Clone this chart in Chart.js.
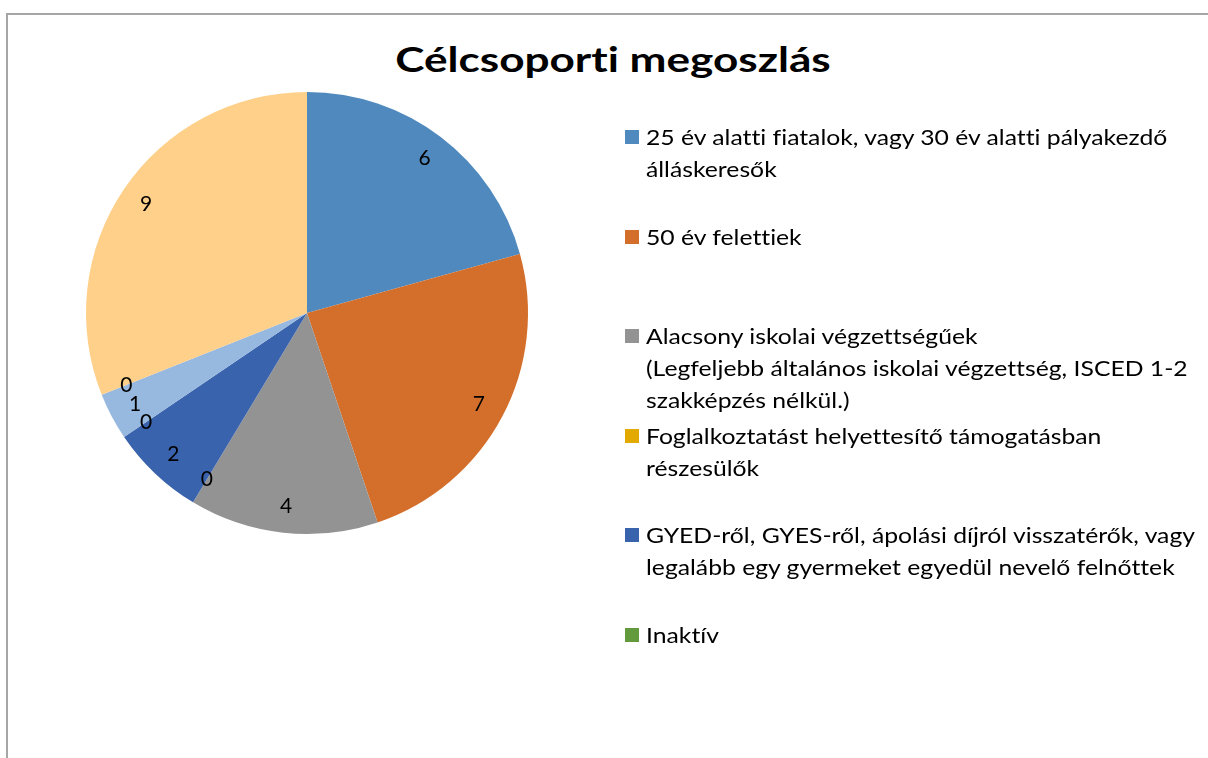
<!DOCTYPE html>
<html lang="hu">
<head>
<meta charset="utf-8">
<title>Célcsoporti megoszlás</title>
<script src="https://cdn.jsdelivr.net/npm/chart.js@4"></script>
<style>
    html, body { margin: 0; padding: 0; background: #fff; overflow: hidden; }
    body { width: 1208px; height: 758px; position: relative; font-family: Lato, "Open Sans", sans-serif; font-variant-ligatures: none; }
    #frame { position: absolute; left: 6px; top: 13px; width: 1300px; height: 900px; border: 2px solid #a6a6a6; }
    #chartTitle { position: absolute; left: 0; top: 40px; width: 1226px; text-align: center; font-size: 35px; line-height: 36px; font-weight: bold; color: #000; transform: scaleX(1.26); transform-origin: 613px 0; }
    #pieChart { position: absolute; left: 0; top: 0; }
    #legend { position: absolute; left: 625px; top: 121px; width: 580px; }
    .legend-item { position: relative; height: 99.5px; }
    .legend-box { position: absolute; left: 0; top: 9px; width: 14px; height: 14px; }
    .legend-text { margin-left: 21px; font-size: 21.5px; line-height: 32px; color: #000; white-space: nowrap; transform: scaleX(1.15); transform-origin: 0 0; }
</style>
</head>
<body>
<div id="frame"></div>
<div id="chartTitle">Célcsoporti megoszlás</div>
<canvas id="pieChart" width="1208" height="758"></canvas>
<div id="legend"></div>
<script>
// Categories (each one split into the lines shown in the legend)
const categories = [
    ['25 év alatti fiatalok, vagy 30 év alatti pályakezdő', 'álláskeresők'],
    ['50 év felettiek'],
    ['Alacsony iskolai végzettségűek', '(Legfeljebb általános iskolai végzettség, ISCED 1-2', 'szakképzés nélkül.)'],
    ['Foglalkoztatást helyettesítő támogatásban', 'részesülők'],
    ['GYED-ről, GYES-ről, ápolási díjról visszatérők, vagy', 'legalább egy gyermeket egyedül nevelő felnőttek'],
    ['Inaktív'],
    [''],   // legend is cut off in the original, names not visible
    [''],
    ['']
];

const values = [6, 7, 4, 0, 2, 0, 1, 0, 9];

const colors = ['#4f89bd', '#d46f2b', '#939393', '#e2a900', '#3a63ad', '#639a3d', '#98b9df', '#f2b27f', '#fed08a'];

// only the first entries fit in the legend box
const legendCount = 6;

document.addEventListener('DOMContentLoaded', function() {
    // Legend
    const legend = document.getElementById('legend');
    for (let i = 0; i < legendCount; i++) {
        const item = document.createElement('div');
        item.className = 'legend-item';
        const box = document.createElement('span');
        box.className = 'legend-box';
        box.style.background = colors[i];
        const text = document.createElement('div');
        text.className = 'legend-text';
        text.innerHTML = categories[i].join('<br>');
        item.appendChild(box);
        item.appendChild(text);
        legend.appendChild(item);
    }

    // Value labels inside the slices
    const valueLabels = {
        id: 'valueLabels',
        afterDatasetsDraw(chart) {
            const ctx = chart.ctx;
            const meta = chart.getDatasetMeta(0);
            ctx.save();
            ctx.font = '21px Lato, "Open Sans", sans-serif';
            ctx.fillStyle = '#000';
            ctx.textAlign = 'center';
            ctx.textBaseline = 'middle';
            meta.data.forEach((arc, i) => {
                const p = arc.getProps(['x', 'y', 'startAngle', 'endAngle', 'outerRadius'], true);
                const mid = (p.startAngle + p.endAngle) / 2;
                const r = p.outerRadius * 0.88;
                ctx.fillText(String(values[i]), p.x + Math.cos(mid) * r, p.y + Math.sin(mid) * r);
            });
            ctx.restore();
        }
    };

    const ctx = document.getElementById('pieChart').getContext('2d');
    new Chart(ctx, {
        type: 'pie',
        data: {
            labels: categories,
            datasets: [{
                data: values,
                backgroundColor: colors,
                borderWidth: 0
            }]
        },
        options: {
            responsive: false,
            animation: false,
            layout: {
                padding: { left: 86, top: 92, right: 680, bottom: 224 }
            },
            plugins: {
                legend: { display: false },
                title: { display: false },
                tooltip: { enabled: false }
            }
        },
        plugins: [valueLabels]
    });
});
</script>
</body>
</html>
